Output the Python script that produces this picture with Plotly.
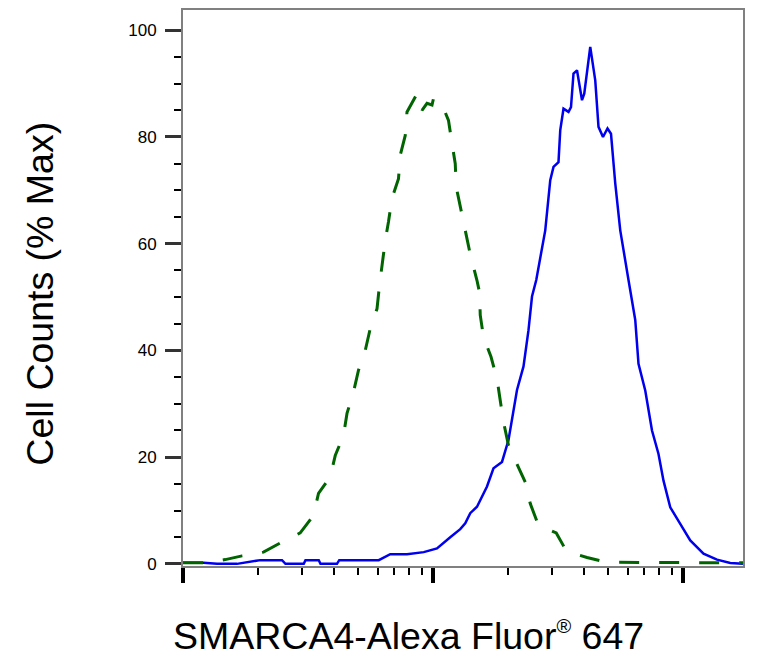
import plotly.graph_objects as go

# histogram (intensity, % of max)
stained_x = [1000, 1208, 1368, 1644, 2037, 2489, 2570, 3041, 3090, 3491, 3548, 4130,
             4217, 6067, 6745, 7870, 9183, 10375, 11722, 12853, 13459, 14093, 14997,
             16444, 17458, 18880, 20045, 21677, 23014, 24099, 24889, 25882, 28119,
             29444, 30339, 31769, 32285, 33266, 34834, 35645, 36475, 37670, 39446,
             40272, 42560, 44566, 45920, 47863, 49888, 51523, 53580, 56105, 60534,
             64417, 66374, 70632, 75162, 79799, 83560, 88920, 97499, 106905, 120781,
             136773, 154525, 173780]
stained_y = [0.2, 0.2, 0.0, 0.0, 0.7, 0.7, 0.0, 0.0, 0.7, 0.7, 0.0, 0.0,
             0.7, 0.7, 1.8, 1.8, 2.2, 2.9, 5.0, 6.5, 7.6, 9.5, 10.7,
             14.5, 17.9, 19.1, 23.2, 32.6, 37.0, 43.8, 50.1, 53.2, 62.5,
             71.9, 74.4, 75.3, 81.3, 85.3, 84.7, 85.6, 91.9, 92.5, 86.9,
             88.1, 96.9, 90.6, 81.9, 80.0, 81.6, 80.6, 71.3, 62.5, 53.2,
             45.7, 37.5, 32.5, 25.0, 20.6, 15.6, 10.6, 7.5, 4.4, 1.9,
             0.8, 0.15, 0.0]

isotype_x = [1000, 1208, 1476, 1722, 2099, 2489, 2944, 3327, 3483, 3882, 4064, 4385,
             4529, 4808, 5035, 5358, 5610, 5970, 6109, 6252, 6442, 6637, 6855, 7278,
             7396, 7745, 7870, 8630, 9036, 9462, 9908, 10046, 10520, 10990, 11535,
             11912, 12274, 12388, 12853, 13459, 14093, 14997, 15346, 15453, 15922,
             17061, 18030, 18578, 19143, 20045, 21677, 23388, 24491, 26424, 31117,
             34356, 37411, 41305, 49659, 59704, 73961, 117220, 173780]
isotype_y = [0.2, 0.2, 0.8, 1.5, 2.2, 4.1, 5.8, 9.1, 13.2, 16.3, 20.3, 24.1,
             28.2, 32.2, 36.3, 40.0, 44.1, 47.8, 52.2, 56.0, 60.6, 64.1, 68.5, 72.2,
             76.6, 80.3, 84.7, 88.1, 85.0, 86.3, 86.0, 87.2, 86.6, 85.5, 83.1,
             78.8, 75.0, 70.6, 66.9, 62.5, 58.0, 53.1, 50.9, 46.6, 42.5,
             38.8, 34.7, 30.6, 26.6, 22.2, 18.8, 15.3, 11.3, 7.2, 5.8,
             2.2, 1.8, 1.2, 0.3, 0.3, 0.2, 0.2, 0.2]

y_ticks = [0, 20, 40, 60, 80, 100]

FONT = "Liberation Sans, Arial, sans-serif"

fig = go.Figure()
fig.add_trace(go.Scatter(x=stained_x, y=stained_y, mode="lines",
                         line=dict(color="#0000EE", width=2.5), showlegend=False))
fig.add_trace(go.Scatter(x=isotype_x, y=isotype_y, mode="lines",
                         line=dict(color="#006400", width=3, dash="20px,20px"),
                         showlegend=False))

# page body has an 8px margin, so the figure is a bit smaller than the window
fig.update_layout(
    width=759, height=649,
    margin=dict(l=175, r=24, t=2, b=91, autoexpand=False),
    paper_bgcolor="white", plot_bgcolor="white",
    font=dict(family=FONT, color="black"),
    xaxis=dict(
        type="log", range=[3, 5.24],
        showgrid=False, zeroline=False,
        showline=True, linecolor="#808080", linewidth=2, mirror=True,
        ticks="outside", dtick=1, ticklen=15, tickwidth=4, tickcolor="black",
        showticklabels=False,
        minor=dict(ticks="outside", dtick="D1", ticklen=7, tickwidth=2,
                   tickcolor="black", showgrid=False),
    ),
    yaxis=dict(
        range=[-0.4, 103.8],
        showgrid=False, zeroline=False,
        showline=True, linecolor="#808080", linewidth=2, mirror=True,
        ticks="outside", tickvals=y_ticks, ticklen=16, tickwidth=3, tickcolor="#333333",
        tickfont=dict(size=17, family=FONT, color="black"),
        ticklabelstandoff=5,
        minor=dict(ticks="outside", dtick=5, tick0=0, ticklen=7, tickwidth=2,
                   tickcolor="black", showgrid=False),
    ),
    annotations=[
        dict(text="SMARCA4-Alexa Fluor<sup><span style='font-size:20px'>®</span></sup> 647",
             xref="paper", yref="paper",
             x=0.403, y=-0.1254, xanchor="center", yanchor="middle", showarrow=False,
             font=dict(size=37.5, family=FONT, color="black")),
        dict(text="Cell Counts (% Max)", xref="paper", yref="paper", textangle=-90,
             x=-0.257, y=0.490, xanchor="center", yanchor="middle", showarrow=False,
             font=dict(size=37.5, family=FONT, color="black")),
    ],
)

fig.write_html("out.html")
